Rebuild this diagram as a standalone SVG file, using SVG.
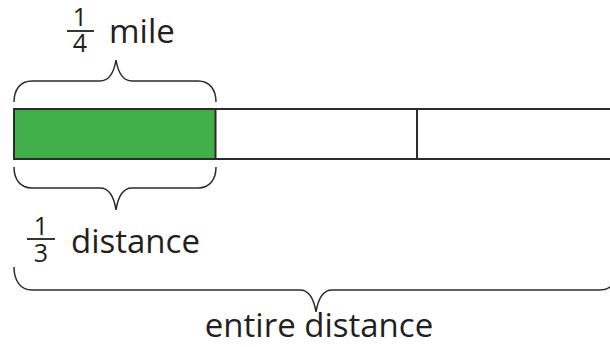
<svg xmlns="http://www.w3.org/2000/svg" width="610" height="347" viewBox="0 0 610 347">
  <style>
    .lbl { font-family: "Open Sans", "Noto Sans", "DejaVu Sans", sans-serif; fill: #231f20; }
    .big { font-size: 33px; }
    .frac { font-size: 25px; text-anchor: middle; }
    .brace { fill: none; stroke: #2b2b2b; stroke-width: 1.5; }
    .cell { stroke: #2b2b2b; stroke-width: 2; }
    .fbar { stroke: #231f20; stroke-width: 1.8; }
  </style>
  <rect x="0" y="0" width="610" height="347" fill="#ffffff"/>

  <!-- tape: three equal parts, first shaded -->
  <g id="tape">
    <rect class="cell" x="14" y="109" width="201.5" height="50" fill="#41b04b"/>
    <path class="cell" d="M215.5,109 H612 M215.5,159 H612 M417,109 V159" fill="none"/>
  </g>

  <g id="braces">
    <path id="brace-quarter" class="brace" d="M14,102 C14,90 20,81 32,81 L100,81 C110,81 114,72 116,60 C118,72 122,81 132,81 L198,81 C210,81 216,90 216,102"/>
    <path id="brace-third" class="brace" d="M14,167 C14,179 20,188 32,188 L100,188 C110,188 114,197 116,210 C118,197 122,188 132,188 L198,188 C210,188 216,179 216,167"/>
    <path id="brace-entire" class="brace" d="M14,267 C14,280 20,290 32,290 L300,290 C310,290 314,300 316,312 C318,300 322,290 332,290 L600,290 C612,290 618,280 618,267"/>
  </g>

  <g id="label-quarter">
    <text class="lbl frac" x="80" y="26">1</text>
    <line class="fbar" x1="67" y1="31" x2="94" y2="31"/>
    <text class="lbl frac" x="80" y="52">4</text>
    <text class="lbl big" x="109" y="43">mile</text>
  </g>

  <g id="label-third">
    <text class="lbl frac" x="41" y="235">1</text>
    <line class="fbar" x1="27" y1="239" x2="55" y2="239"/>
    <text class="lbl frac" x="41" y="262">3</text>
    <text class="lbl big" x="71" y="253">distance</text>
  </g>

  <g id="label-entire">
    <text class="lbl big" x="319" y="337" text-anchor="middle">entire distance</text>
  </g>
</svg>
